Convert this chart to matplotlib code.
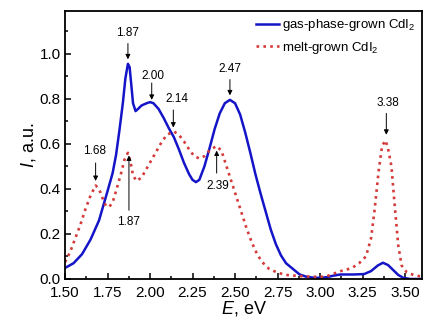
import numpy as np
import matplotlib
matplotlib.use("Agg")
import matplotlib.pyplot as plt

plt.rcParams['font.family'] = ['Liberation Sans', 'DejaVu Sans']
plt.rcParams['mathtext.fontset'] = 'custom'
plt.rcParams['mathtext.rm'] = 'Liberation Sans'
plt.rcParams['mathtext.it'] = 'Liberation Sans:italic'

# gas-phase-grown CdI2
e_gas = [1.50, 1.55, 1.60, 1.65, 1.70, 1.75, 1.78, 1.80, 1.82, 1.84, 1.855, 1.87,
         1.88, 1.89, 1.90, 1.915, 1.93, 1.95, 1.98, 2.00, 2.02, 2.05, 2.08, 2.11,
         2.14, 2.17, 2.20, 2.23, 2.25, 2.27, 2.29, 2.32, 2.35, 2.38, 2.41, 2.44,
         2.47, 2.50, 2.53, 2.56, 2.59, 2.62, 2.65, 2.68, 2.71, 2.74, 2.77, 2.80,
         2.84, 2.88, 2.92, 2.96, 3.00, 3.04, 3.08, 3.12, 3.20, 3.26, 3.30, 3.34,
         3.37, 3.40, 3.43, 3.46, 3.49, 3.53, 3.60]
i_gas = [0.049, 0.07, 0.11, 0.175, 0.26, 0.39, 0.47, 0.55, 0.66, 0.78, 0.89, 0.955,
         0.94, 0.86, 0.78, 0.745, 0.755, 0.77, 0.78, 0.785, 0.78, 0.755, 0.715, 0.67,
         0.63, 0.575, 0.515, 0.465, 0.44, 0.43, 0.44, 0.50, 0.58, 0.665, 0.735, 0.78,
         0.795, 0.78, 0.73, 0.65, 0.56, 0.465, 0.38, 0.30, 0.22, 0.155, 0.105, 0.07,
         0.045, 0.02, 0.01, 0.006, 0.005, 0.008, 0.015, 0.02, 0.02, 0.022, 0.035, 0.06,
         0.072, 0.062, 0.04, 0.018, 0.005, 0.0, 0.0]

# melt-grown CdI2
e_melt = [1.50, 1.53, 1.56, 1.59, 1.62, 1.65, 1.68, 1.70, 1.72, 1.74, 1.76, 1.78,
          1.80, 1.83, 1.85, 1.87, 1.885, 1.90, 1.92, 1.95, 1.98, 2.01, 2.04, 2.07,
          2.10, 2.14, 2.17, 2.20, 2.23, 2.26, 2.29, 2.32, 2.35, 2.39, 2.42, 2.45,
          2.48, 2.51, 2.54, 2.57, 2.60, 2.63, 2.66, 2.70, 2.75, 2.80, 2.88, 2.95,
          3.03, 3.07, 3.11, 3.15, 3.19, 3.23, 3.27, 3.30, 3.32, 3.345, 3.365, 3.385,
          3.40, 3.42, 3.44, 3.46, 3.48, 3.51, 3.55, 3.60]
i_melt = [0.075, 0.12, 0.18, 0.24, 0.31, 0.37, 0.415, 0.40, 0.36, 0.325, 0.32, 0.34,
          0.39, 0.47, 0.53, 0.56, 0.52, 0.46, 0.435, 0.45, 0.49, 0.53, 0.57, 0.61,
          0.64, 0.655, 0.64, 0.61, 0.575, 0.545, 0.535, 0.545, 0.57, 0.59, 0.57, 0.50,
          0.43, 0.36, 0.29, 0.22, 0.16, 0.11, 0.075, 0.045, 0.028, 0.018, 0.013, 0.01,
          0.01, 0.02, 0.033, 0.04, 0.05, 0.07, 0.10, 0.18, 0.30, 0.48, 0.59, 0.615,
          0.58, 0.50, 0.32, 0.15, 0.06, 0.03, 0.018, 0.01]

# peak labels: text, text position, arrow start, arrow tip
peaks = [
    ("1.87", (1.87, 1.09), (1.87, 1.045), (1.87, 0.975)),
    ("2.00", (2.02, 0.90), (2.01, 0.87), (2.01, 0.795)),
    ("2.14", (2.16, 0.80), (2.137, 0.75), (2.137, 0.672)),
    ("2.47", (2.47, 0.93), (2.47, 0.885), (2.47, 0.815)),
    ("3.38", (3.40, 0.78), (3.39, 0.735), (3.39, 0.64)),
    ("1.68", (1.672, 0.566), (1.68, 0.515), (1.68, 0.435)),
    ("1.87", (1.872, 0.255), (1.876, 0.305), (1.876, 0.548)),
    ("2.39", (2.396, 0.413), (2.392, 0.47), (2.392, 0.57)),
]

fig = plt.figure(figsize=(4.25, 3.29), dpi=100)
ax = fig.add_axes([0.153, 0.152, 0.840, 0.815])

ax.plot(e_gas, i_gas, color='#1414c8', lw=1.8, label='gas-phase-grown CdI$_2$')
ax.plot(e_melt, i_melt, color='#d43a3a', lw=1.9, ls=(0, (1, 1.6)),
        label='melt-grown CdI$_2$')

for txt, tpos, a0, a1 in peaks:
    ax.text(tpos[0], tpos[1], txt, ha='center', va='center', fontsize=8.5)
    ax.annotate('', xy=a1, xytext=a0,
                arrowprops=dict(arrowstyle='-|>', color='black', lw=0.7,
                                mutation_scale=7, shrinkA=0, shrinkB=0))

ax.set_xlim(1.5, 3.6)
ax.set_ylim(0, 1.19)
ax.set_xticks(np.arange(1.5, 3.51, 0.25))
ax.set_xticks(np.arange(1.625, 3.6, 0.25), minor=True)
ax.set_yticks(np.arange(0, 1.01, 0.2))
ax.set_yticks(np.arange(0.1, 1.19, 0.2), minor=True)
ax.xaxis.set_major_formatter(plt.FormatStrFormatter('%.2f'))
ax.yaxis.set_major_formatter(plt.FormatStrFormatter('%.1f'))
ax.tick_params(direction='in', which='both', labelsize=11, width=1.1)
ax.tick_params(which='major', length=4.5)
ax.tick_params(which='minor', length=2.5)
ax.tick_params(axis='x', pad=5)
ax.tick_params(axis='y', pad=3)
for s in ax.spines.values():
    s.set_linewidth(1.3)

ax.set_xlabel('$E$, eV', fontsize=13, labelpad=-1)
ax.set_ylabel('$I$, a.u.', fontsize=13, labelpad=1)

ax.legend(loc='upper right', frameon=False, fontsize=9.5, handlelength=1.8,
          handletextpad=0.2, borderaxespad=0.1, labelspacing=0.5)

fig.savefig('out.png', dpi=100)
